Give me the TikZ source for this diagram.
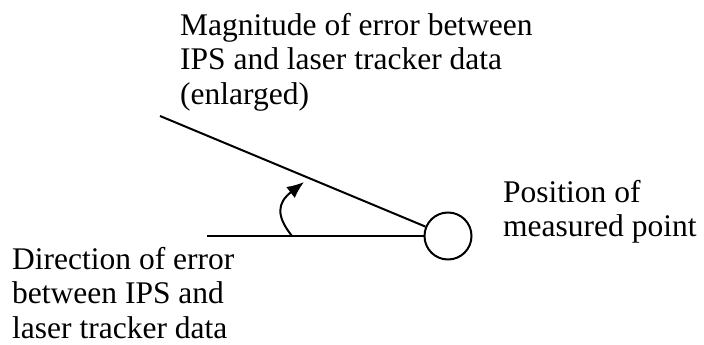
\documentclass[tikz,border=0pt]{standalone}
\usepackage{fontspec}
\setmainfont{Liberation Serif}
\usetikzlibrary{arrows.meta}
\begin{document}
\begin{tikzpicture}[x=1pt,y=-1pt,
  lbl/.style={inner sep=0pt,align=left,anchor=base west,font=\fontsize{31.5pt}{34.5pt}\selectfont},
  ln/.style={line width=2pt,black},
  pt/.style={circle,draw,line width=2pt,minimum size=47pt,inner sep=0pt}]
\useasboundingbox (0,0) rectangle (704,345);
\node[pt] (p) at (448,236) {};
\coordinate (dstart) at (160,116);
\coordinate (hstart) at (207,236);
\coordinate (arrS) at (292,236);
\coordinate (arrE) at (304,182);
\draw[ln] (dstart) -- (p);
\draw[ln] (hstart) -- (p.west);
\draw[ln,-{Latex[length=17pt,width=14pt]}] (arrS) .. controls (276,216) and (277,203) .. (arrE);
\node[lbl] (mag) at (180,104) {Magnitude of error between\\IPS and laser tracker data\\(enlarged)};
\node[lbl] (dir) at (12,338) {Direction of error\\between IPS and\\laser tracker data};
\node[lbl] (pos) at (503,236.5) {Position of\\measured point};
\end{tikzpicture}
\end{document}
